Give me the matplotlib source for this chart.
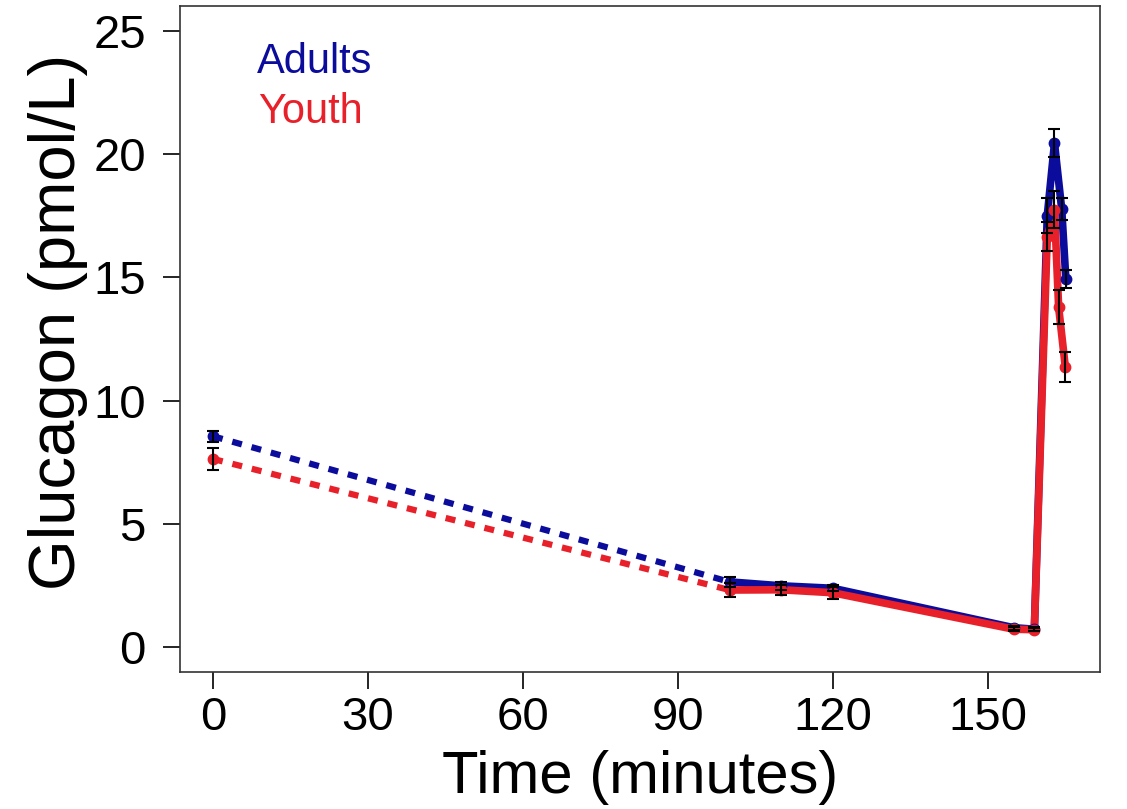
import matplotlib
matplotlib.use("Agg")
import matplotlib.pyplot as plt

plt.rcParams["font.family"] = ["Liberation Sans", "DejaVu Sans"]

# Glucagon time course, mean +/- SE
adult_time = [0, 100, 110, 120, 155, 159, 161.5, 162.9, 164.3, 165.1]
adult_mean = [8.55, 2.64, 2.48, 2.38, 0.78, 0.72, 17.5, 20.44, 17.76, 14.92]
adult_se = [0.23, 0.2, 0.15, 0.12, 0.08, 0.07, 0.7, 0.56, 0.45, 0.37]

youth_time = [0, 100, 110, 120, 155, 159, 161.5, 162.9, 163.7, 165.0]
youth_mean = [7.63, 2.31, 2.32, 2.2, 0.72, 0.7, 16.65, 17.74, 13.79, 11.35]
youth_se = [0.43, 0.3, 0.2, 0.25, 0.08, 0.07, 0.6, 0.75, 0.7, 0.6]

adult_color = "#0c0c9c"
youth_color = "#e8202a"

fig = plt.figure(figsize=(11.27, 8.09), dpi=100)
ax = fig.add_axes([0.1597, 0.1694, 0.8163, 0.8232])

for t, m, se, c in [(adult_time, adult_mean, adult_se, adult_color),
                    (youth_time, youth_mean, youth_se, youth_color)]:
    # baseline to clamp start is joined with a dashed line
    ax.plot(t[:2], m[:2], color=c, lw=4.5, ls=(0, (1.6, 1.6)), zorder=2)
    ax.plot(t[1:], m[1:], color=c, lw=5.5, solid_joinstyle="round", zorder=2)
    ax.plot(t, m, "o", color=c, ms=7.5, zorder=3)
    ax.errorbar(t, m, yerr=se, fmt="none", ecolor="black", elinewidth=1.5,
                capsize=4.5, capthick=1.5, zorder=4)

ax.set_xlim(-6.39, 171.7)
ax.set_ylim(-1.015, 26.01)
ax.set_xticks([0, 30, 60, 90, 120, 150])
ax.set_yticks([0, 5, 10, 15, 20, 25])
ax.tick_params(labelsize=34, length=12.5, width=1.2, direction="out")
ax.tick_params(axis="x", pad=5)
ax.tick_params(axis="y", pad=12)
for s in ax.spines.values():
    s.set_linewidth(1.2)
    s.set_color("#333333")

ax.set_xlabel("Time (minutes)", fontsize=43, labelpad=7)
ax.set_ylabel("Glucagon (pmol/L)", fontsize=47, labelpad=4)
ax.yaxis.label.set_y(0.525)

ax.text(0.0837, 0.899, "Adults", color=adult_color, fontsize=30,
        va="baseline", transform=ax.transAxes)
ax.text(0.085, 0.824, "Youth", color=youth_color, fontsize=30,
        va="baseline", transform=ax.transAxes)

fig.savefig("out.png", dpi=100)
